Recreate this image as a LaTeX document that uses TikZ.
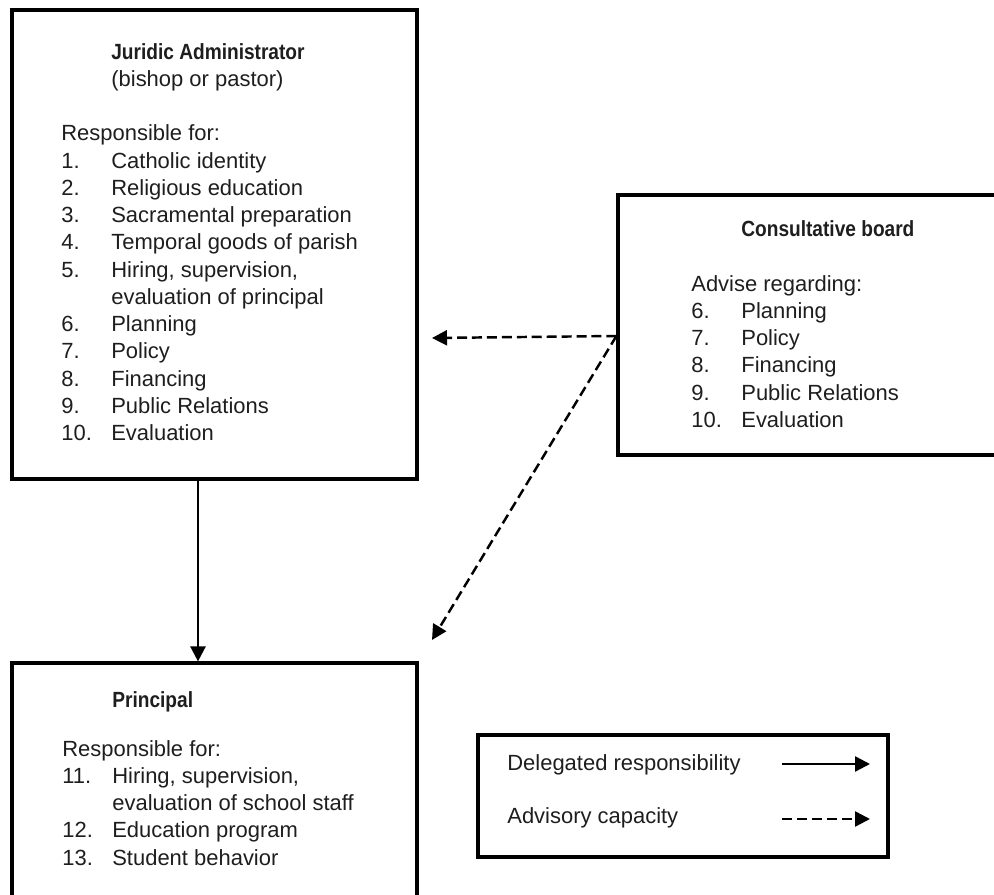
\documentclass[tikz,border=0pt]{standalone}
\usepackage{xcolor}
\usepackage{fontspec}
\setmainfont{Liberation Sans}
\newfontfamily\headfont[FakeStretch=0.87]{Liberation Sans}
\usepackage{tikz}
\usetikzlibrary{arrows.meta}
\definecolor{ink}{HTML}{1E1E1E}
\newcommand{\listno}[1]{\makebox[1cm][l]{#1}}

\tikzset{
  frame/.style={draw=black, line width=1.8pt, inner sep=0pt},
  listtext/.style={anchor=north west, align=left, inner sep=0pt, text=ink, font=\fontsize{12.5}{15.5}\selectfont},
  keytext/.style={anchor=west, inner sep=0pt, text=ink, font=\fontsize{12.5}{15.5}\selectfont},
  delegated/.style={draw=black, line width=1.4pt, -{Triangle[length=0.3cm,width=0.3cm]}},
  advisory/.style={delegated, dash pattern=on 5.7pt off 2.8pt}
}

\begin{document}
\begin{tikzpicture}
  \useasboundingbox (0,0) rectangle (19.88,17.9);
  \node[frame, minimum width=8.1cm, minimum height=9.38cm] (jur) at (4.29,13.01) {};
  \node[frame, minimum width=7.68cm, minimum height=5.2cm] (cons) at (16.2,11.4) {};
  \node[frame, minimum width=8.1cm, minimum height=4.7cm] (prin) at (4.29,2.29) {};
  \node[frame, minimum width=8.2cm, minimum height=2.44cm] (key) at (13.66,1.98) {};

  \node[listtext] (jurtext) at (1.22,17.04) {\hspace*{1cm}{\headfont\bfseries Juridic Administrator}\\
    \hspace*{1cm}(bishop or pastor)\\[15.5pt]
    Responsible for:\\
    \listno{1.}Catholic identity\\
    \listno{2.}Religious education\\
    \listno{3.}Sacramental preparation\\
    \listno{4.}Temporal goods of parish\\
    \listno{5.}Hiring, supervision,\\
    \listno{}evaluation of principal\\
    \listno{6.}Planning\\
    \listno{7.}Policy\\
    \listno{8.}Financing\\
    \listno{9.}Public Relations\\
    \listno{10.}Evaluation};
  \node[listtext] (constext) at (13.82,13.49) {\hspace*{1cm}{\headfont\bfseries Consultative board}\\[15.5pt]
    Advise regarding:\\
    \listno{6.}Planning\\
    \listno{7.}Policy\\
    \listno{8.}Financing\\
    \listno{9.}Public Relations\\
    \listno{10.}Evaluation};
  \node[listtext] (printext) at (1.24,4.07) {\hspace*{1cm}{\headfont\bfseries Principal}\\[12pt]
    Responsible for:\\
    \listno{11.}Hiring, supervision,\\
    \listno{}evaluation of school staff\\
    \listno{12.}Education program\\
    \listno{13.}Student behavior};

  \node[keytext] (deltext) at (10.14,2.6) {Delegated responsibility};
  \node[keytext] (advtext) at (10.14,1.54) {Advisory capacity};
  \coordinate (delfrom) at (15.64,2.62);
  \coordinate (delto) at (17.40,2.62);
  \coordinate (advfrom) at (15.64,1.52);
  \coordinate (advto) at (17.40,1.52);
  \draw[delegated] (delfrom) -- (delto);
  \draw[advisory] (advfrom) -- (advto);

  \coordinate (advsrc) at ([yshift=-0.22cm]cons.west);
  \coordinate (jurtip) at (8.64,11.14);
  \coordinate (printip) at (8.64,5.10);
  \draw[delegated] ([xshift=-0.33cm]jur.south) -- ([xshift=-0.33cm]prin.north);
  \draw[advisory] (advsrc) -- (jurtip);
  \draw[advisory] (advsrc) -- (printip);
\end{tikzpicture}
\end{document}
